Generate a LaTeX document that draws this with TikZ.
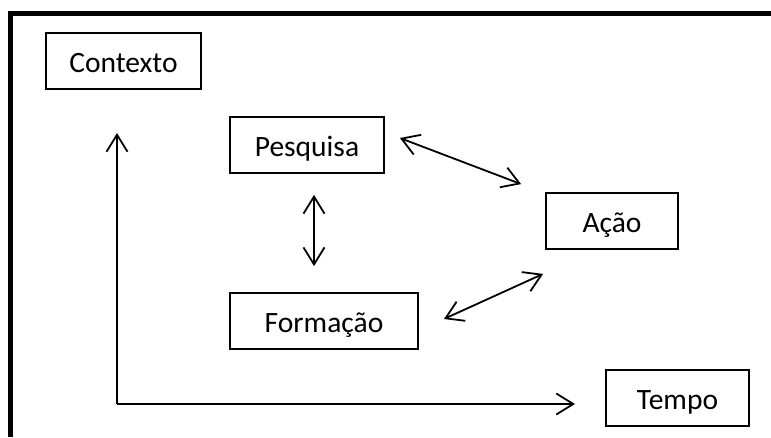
\documentclass[tikz,border=0pt]{standalone}
\usepackage{fontspec}
\setmainfont{Carlito}
\usetikzlibrary{arrows.meta,calc}

\tikzset{
  caixa/.style={draw, line width=1.8pt, minimum height=56pt, inner sep=0pt,
    text height=22pt, text depth=0pt, font=\fontsize{29.5}{35}\selectfont},
  seta/.style={line width=1.8pt, {Straight Barb[length=17pt,width=21pt]}-{Straight Barb[length=17pt,width=21pt]}},
  eixo/.style={line width=1.8pt, -{Straight Barb[length=17pt,width=21pt]}}
}

\begin{document}
\begin{tikzpicture}[x=1pt,y=-1pt]
\useasboundingbox (0,0) rectangle (771,437);
\draw[line width=5pt] (10.5,437) -- (10.5,13.5) -- (771,13.5);

\node[caixa, minimum width=155pt] (contexto) at (123.5,61) {Contexto};
\node[caixa, minimum width=154pt] (pesquisa) at (307,145) {Pesquisa};
\node[caixa, minimum width=132pt] (acao) at (612,221) {Ação};
\node[caixa, minimum width=188pt] (formacao) at (324,321) {Formação};
\node[caixa, minimum width=143pt] (tempo) at (677.5,398) {Tempo};

\coordinate (origem) at (117,404);
\coordinate (topo) at (117,133);
\coordinate (fim) at (575,404);

\path[eixo] (origem) edge (topo)
                     edge (fim);
\path[seta] ($(pesquisa.east)+(15,-7)$) edge ($(acao.north west)+(-24,-8)$)
            ($(pesquisa.south)+(7,21)$) edge ($(formacao.north)+(-10,-26)$)
            ($(formacao.east)+(25,-2)$) edge ($(acao.south west)+(-2,24)$);
\end{tikzpicture}
\end{document}
